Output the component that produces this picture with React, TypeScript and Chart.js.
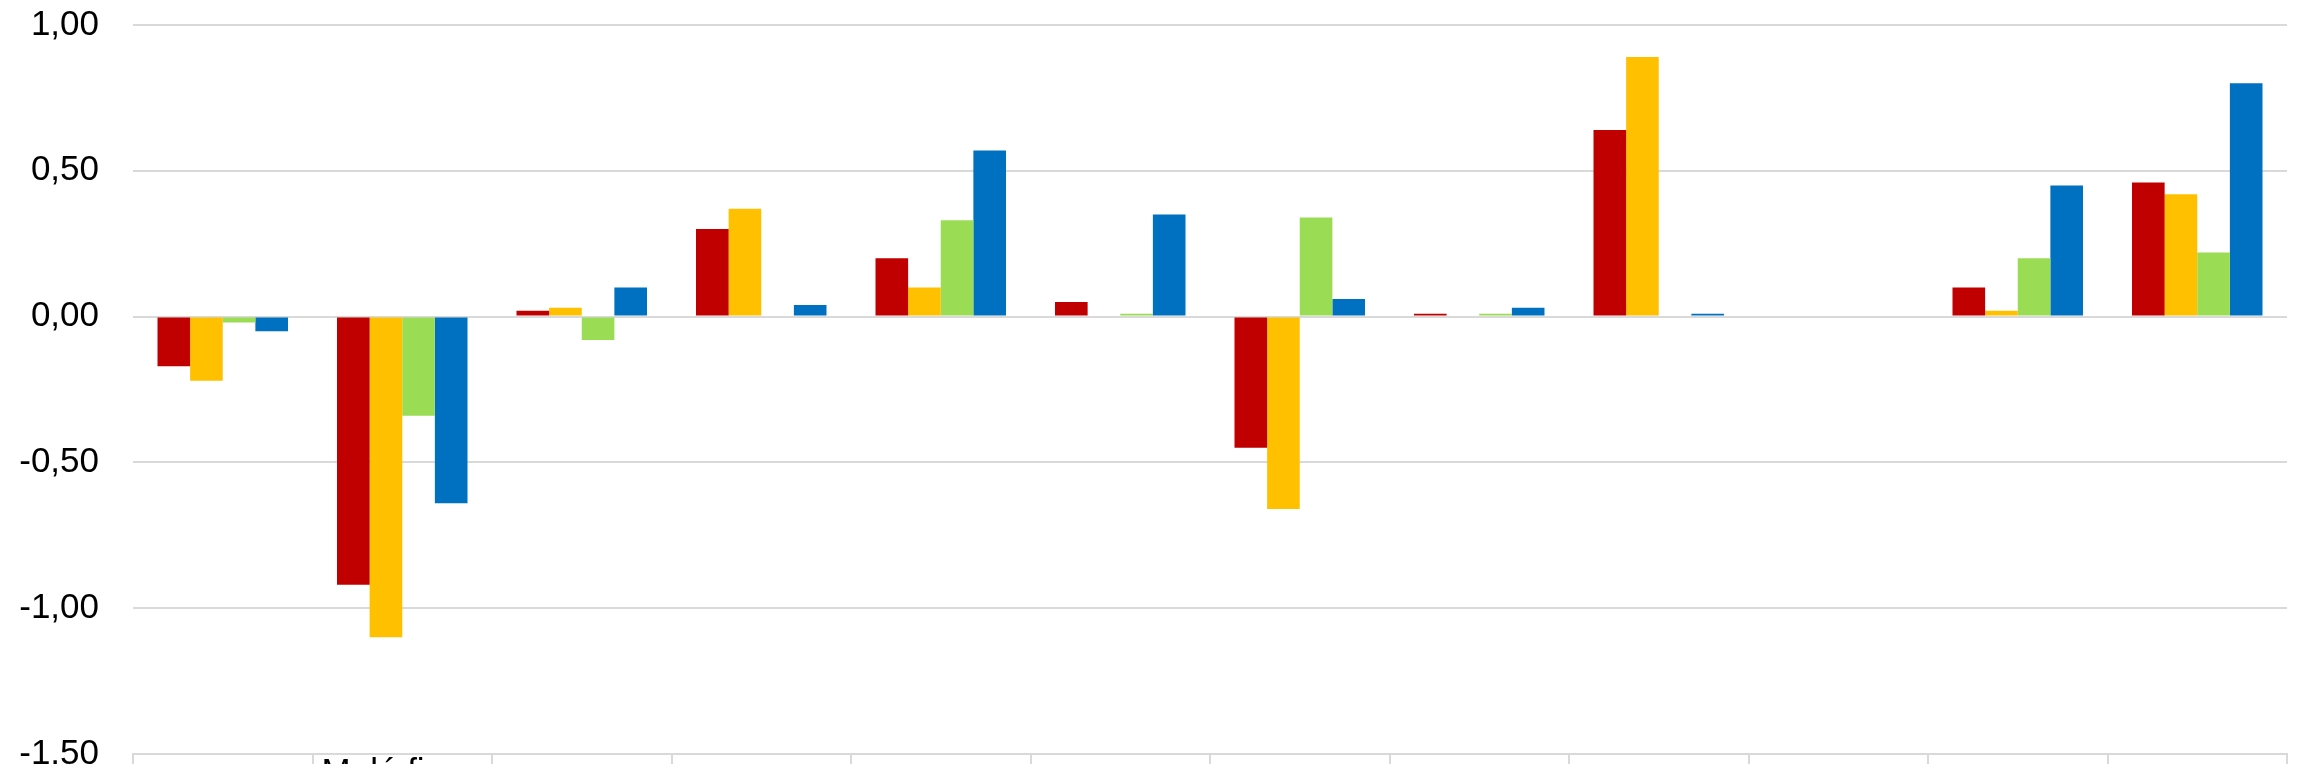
import React, { useEffect, useRef } from "react";
import { Chart, registerables } from "chart.js";

Chart.register(...registerables);

const categories: string[] = ["", "Malé firmy", "", "", "", "", "", "", "", "", "", ""];
const seriesNames: string[] = ["Řada 1", "Řada 2", "Řada 3", "Řada 4"];
const redValues: number[] = [-0.17, -0.92, 0.02, 0.3, 0.2, 0.05, -0.45, 0.01, 0.64, 0, 0.1, 0.46];
const yellowValues: number[] = [-0.22, -1.1, 0.03, 0.37, 0.1, 0, -0.66, 0, 0.89, 0, 0.02, 0.42];
const greenValues: number[] = [-0.02, -0.34, -0.08, 0, 0.33, 0.01, 0.34, 0.01, 0, 0, 0.2, 0.22];
const blueValues: number[] = [-0.05, -0.64, 0.1, 0.04, 0.57, 0.35, 0.06, 0.03, 0.01, 0, 0.45, 0.8];
const yMin = -1.5;
const yMax = 1.0;
const yStep = 0.5;

const colors = ["#C00000", "#FFC000", "#9BDC55", "#0070C0"];

export default function App() {
  const ref = useRef<HTMLCanvasElement | null>(null);

  useEffect(() => {
    if (!ref.current) return;
    const allValues = [redValues, yellowValues, greenValues, blueValues];
    const chart = new Chart(ref.current, {
      type: "bar",
      data: {
        labels: categories,
        datasets: allValues.map((vals, i) => ({
          label: seriesNames[i],
          data: vals,
          backgroundColor: colors[i],
          borderWidth: 0,
          barPercentage: 1,
          categoryPercentage: 0.727,
        })),
      },
      options: {
        animation: false,
        responsive: false,
        devicePixelRatio: 1,
        layout: { autoPadding: false, padding: { left: 0, right: 5, top: 17, bottom: 0 } },
        plugins: {
          legend: { display: false },
          title: { display: false },
          subtitle: { display: false },
          tooltip: { enabled: false },
        },
        scales: {
          x: {
            grid: {
              offset: true,
              drawOnChartArea: false,
              drawTicks: true,
              tickLength: 22,
              color: "#d9d9d9",
              lineWidth: 2,
            },
            border: { display: true, color: "#d9d9d9", width: 2 },
            ticks: {
              autoSkip: false,
              maxRotation: 0,
              minRotation: 0,
              padding: -20,
              color: "#000000",
              font: { family: "Liberation Sans, Arial, sans-serif", size: 35, lineHeight: 1 },
            },
            afterFit: (scale: any) => {
              scale.height = 80;
              scale.paddingLeft = 0;
              scale.paddingRight = 0;
            },
          },
          y: {
            min: yMin,
            max: yMax,
            grid: {
              drawTicks: false,
              color: "#d9d9d9",
              lineWidth: 2,
            },
            border: { display: false },
            ticks: {
              stepSize: yStep,
              padding: 34,
              color: "#000000",
              font: { family: "Liberation Sans, Arial, sans-serif", size: 35, lineHeight: 1 },
              callback: (v: any) => Number(v).toFixed(2).replace(".", ","),
            },
            afterFit: (scale: any) => {
              scale.width = 125;
              scale.paddingTop = 17;
              scale.paddingBottom = 17;
            },
          },
        },
      },
    });
    return () => chart.destroy();
  }, []);

  return (
    <div style={{ width: 2284, height: 764, overflow: "hidden", marginBottom: -8 }}>
      <canvas ref={ref} width={2284} height={826} style={{ display: "block", width: 2284, height: 826 }} />
    </div>
  );
}
